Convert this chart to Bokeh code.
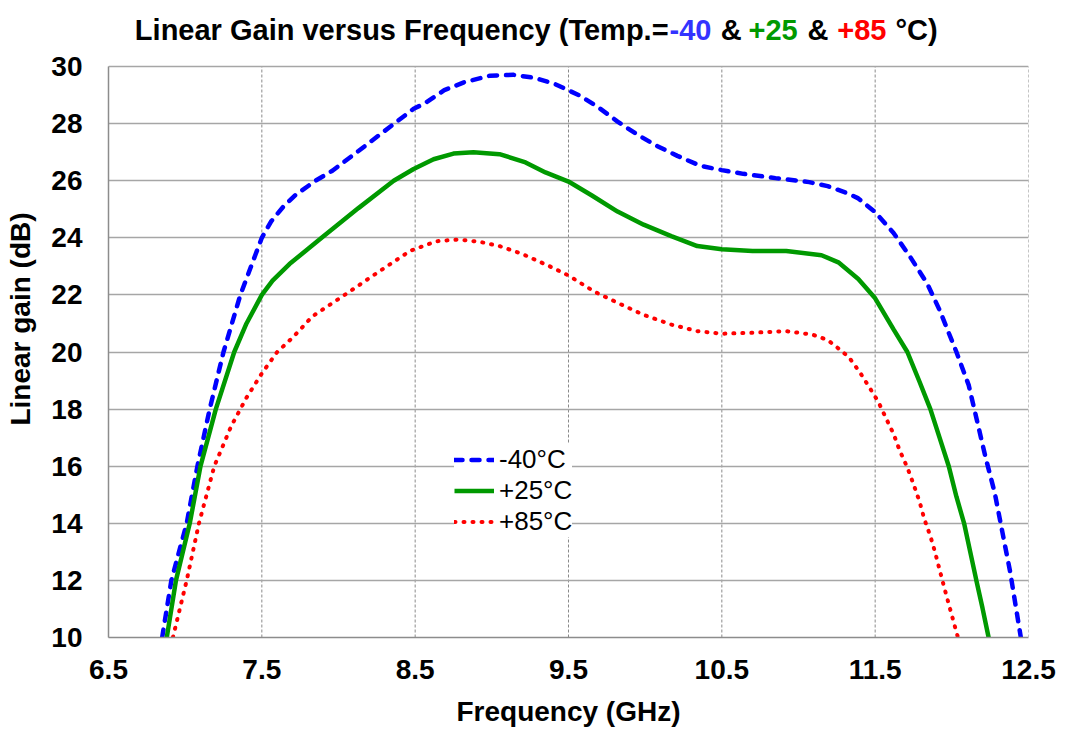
from bokeh.plotting import figure
from bokeh.models import Range1d, FixedTicker, Label, Legend, LegendItem
from bokeh.embed import file_html
from bokeh.resources import INLINE

# ---- data ----
freq_m40 = [6.85, 6.91, 7.01, 7.08, 7.16, 7.25, 7.36, 7.46, 7.50, 7.56, 7.64, 7.72, 7.85, 7.96,
            8.13, 8.49, 8.56, 8.69, 8.82, 8.99, 9.14, 9.28, 9.41, 9.57, 9.69, 9.82, 9.95,
            10.08, 10.21, 10.36, 10.50, 10.64, 10.85, 11.07, 11.19, 11.32, 11.39, 11.50,
            11.62, 11.73, 11.84, 11.92, 12.03, 12.11, 12.16, 12.22, 12.28, 12.33, 12.38, 12.45]
gain_m40 = [10.0, 12.0, 14.0, 16.0, 18.0, 20.0, 22.0, 23.43, 24.0, 24.57, 25.09, 25.5, 26.0, 26.35,
            27.04, 28.52, 28.7, 29.17, 29.45, 29.68, 29.71, 29.6, 29.39, 28.99, 28.59, 28.07, 27.61,
            27.21, 26.87, 26.52, 26.37, 26.24, 26.09, 25.95, 25.81, 25.56, 25.38, 24.9,
            24.17, 23.32, 22.39, 21.47, 20.0, 18.84, 17.69, 16.31, 15.06, 13.68, 12.31, 10.0]

freq_p25 = [6.88, 6.94, 7.03, 7.10, 7.20, 7.32, 7.40, 7.50, 7.57, 7.68, 7.89, 8.13, 8.36, 8.49,
            8.62, 8.75, 8.88, 9.05, 9.22, 9.35, 9.50, 9.65, 9.82, 9.99, 10.17, 10.34, 10.50,
            10.70, 10.92, 11.15, 11.26, 11.39, 11.50, 11.62, 11.71, 11.79, 11.86, 11.92, 11.98,
            12.03, 12.08, 12.12, 12.16, 12.20, 12.24]
gain_p25 = [10.0, 12.0, 14.0, 16.0, 18.0, 20.0, 21.0, 22.0, 22.5, 23.08, 24.0, 25.04, 26.0, 26.41,
            26.75, 26.95, 27.0, 26.93, 26.64, 26.29, 25.97, 25.49, 24.92, 24.46, 24.06, 23.71, 23.6,
            23.54, 23.54, 23.39, 23.14, 22.56, 21.88, 20.79, 20.0, 18.95, 18.0, 17.0, 16.0,
            14.93, 14.0, 13.0, 12.0, 11.03, 10.0]

freq_p85 = [6.92, 7.01, 7.09, 7.19, 7.30, 7.40, 7.50, 7.60, 7.70, 7.83, 8.04, 8.26, 8.47, 8.64,
            8.78, 8.92, 9.05, 9.20, 9.37, 9.50, 9.67, 9.83, 9.99, 10.17, 10.34, 10.50, 10.68,
            10.92, 11.09, 11.19, 11.28, 11.33, 11.40, 11.46, 11.52, 11.57, 11.62, 11.66, 11.71,
            11.75, 11.79, 11.82, 11.86, 11.89, 11.92, 11.95, 11.98, 12.01, 12.04]
gain_p85 = [10.0, 12.0, 14.0, 16.0, 17.4, 18.4, 19.25, 20.0, 20.5, 21.25, 22.0, 22.8, 23.55, 23.88,
            23.94, 23.86, 23.71, 23.43, 23.02, 22.68, 22.11, 21.7, 21.3, 20.96, 20.73, 20.64, 20.67,
            20.73, 20.61, 20.42, 20.04, 19.81, 19.29, 18.78, 18.26, 17.69, 17.13, 16.55, 15.95,
            15.37, 14.75, 14.16, 13.55, 13.0, 12.38, 11.76, 11.17, 10.58, 10.0]

x_ticks = [6.5, 7.5, 8.5, 9.5, 10.5, 11.5, 12.5]
y_ticks = [10, 12, 14, 16, 18, 20, 22, 24, 26, 28, 30]
series_labels = ["-40°C", "+25°C", "+85°C"]
x_title = "Frequency (GHz)"
y_title = "Linear gain (dB)"

FONT = "Liberation Sans"
BLUE, GREEN, RED = "#0000FF", "#009900", "#FF0000"

W, H = 1062, 729
FL, FR = 108, 1028      # canvas px of x = 6.5 and x = 12.5
PT, PB = 66, 637        # canvas px of y = 30 and y = 10
X0, X1, Y0, Y1 = 6.5, 12.5, 10.0, 30.0
# frame reaches the top of the canvas so the multi-coloured title can sit inside it
y_top = Y1 + PT * (Y1 - Y0) / (PB - PT)

p = figure(width=W, height=H, output_backend="svg", toolbar_location=None,
           x_range=Range1d(X0, X1), y_range=Range1d(Y0, y_top),
           min_border_left=FL, min_border_right=W - FR,
           min_border_top=0, min_border_bottom=H - PB)
p.outline_line_color = None
p.background_fill_color = "white"

# axes
for ax in (p.xaxis[0], p.yaxis[0]):
    ax.major_label_text_font = FONT
    ax.major_label_text_font_style = "bold"
    ax.major_label_text_font_size = "28px"
    ax.major_label_text_color = "black"
    ax.major_tick_in = 0
    ax.major_tick_out = 0
    ax.minor_tick_in = 0
    ax.minor_tick_out = 0
    ax.axis_line_color = "#8c8c8c"
    ax.axis_line_width = 1.5
    ax.axis_label_text_font = FONT
    ax.axis_label_text_font_style = "bold"
    ax.axis_label_text_font_size = "28px"
    ax.axis_label_text_color = "black"
p.xaxis.ticker = FixedTicker(ticks=x_ticks)
p.yaxis.ticker = FixedTicker(ticks=y_ticks)
p.yaxis.bounds = (Y0, Y1)
p.xaxis.major_label_standoff = 22
p.yaxis.major_label_standoff = 26
p.xaxis.axis_label = x_title
p.yaxis.axis_label = y_title
p.xaxis.axis_label_standoff = 14
p.yaxis.axis_label_standoff = 12

# horizontal grid (solid) from the axis ticker; vertical grid (dashed) limited to the plot box
p.xgrid.visible = False
p.ygrid.ticker = FixedTicker(ticks=y_ticks)
p.ygrid.grid_line_color = "#a6a6a6"
p.ygrid.grid_line_width = 1.5
p.segment(x0=x_ticks, y0=[Y0] * len(x_ticks), x1=x_ticks, y1=[Y1] * len(x_ticks),
          line_color="#8a8a8a", line_width=1, line_dash="3 2", level="underlay")

r1 = p.line(freq_m40, gain_m40, line_color=BLUE, line_width=4.5, line_dash="8 9", line_cap="round")
r2 = p.line(freq_p25, gain_p25, line_color=GREEN, line_width=4.5)
r3 = p.line(freq_p85, gain_p85, line_color=RED, line_width=4, line_dash="1 8", line_cap="round")

legend = Legend(items=[LegendItem(label=series_labels[0], renderers=[r1]),
                       LegendItem(label=series_labels[1], renderers=[r2]),
                       LegendItem(label=series_labels[2], renderers=[r3])],
                location=(346, 100), orientation="vertical",
                border_line_color=None, background_fill_color="white", background_fill_alpha=1.0,
                label_text_font=FONT, label_text_font_size="26px", label_text_color="black",
                glyph_width=40, glyph_height=29, label_height=29, label_standoff=5,
                spacing=0, padding=8, margin=0)
p.add_layout(legend, "center")

# reference-picture px -> data coordinates (for the title pieces)
def tx(px):
    cx = FL + (px - 110) * (FR - FL) / 933.0
    return X0 + (cx - FL) * (X1 - X0) / (FR - FL)

def ty(py):
    cy = PT + (py - 69) * (PB - PT) / 581.0
    return Y1 + (PT - cy) * (Y1 - Y0) / (PB - PT)

title_parts = [
    ("Linear Gain versus Frequency (Temp.=", "black", 678, "right"),
    ("-40", "#3333FF", 679, "left"),
    ("&", "black", 731, "left"),
    ("+25", GREEN, 759, "left"),
    ("&", "black", 819, "left"),
    ("+85", RED, 849, "left"),
    ("°C)", "black", 908, "left"),
]
for txt, col, px, al in title_parts:
    p.add_layout(Label(x=tx(px), y=ty(32), text=txt, text_color=col, text_align=al,
                       text_baseline="alphabetic", text_font=FONT, text_font_style="bold",
                       text_font_size="29px"))

open("out.html", "w").write(file_html(p, INLINE))
